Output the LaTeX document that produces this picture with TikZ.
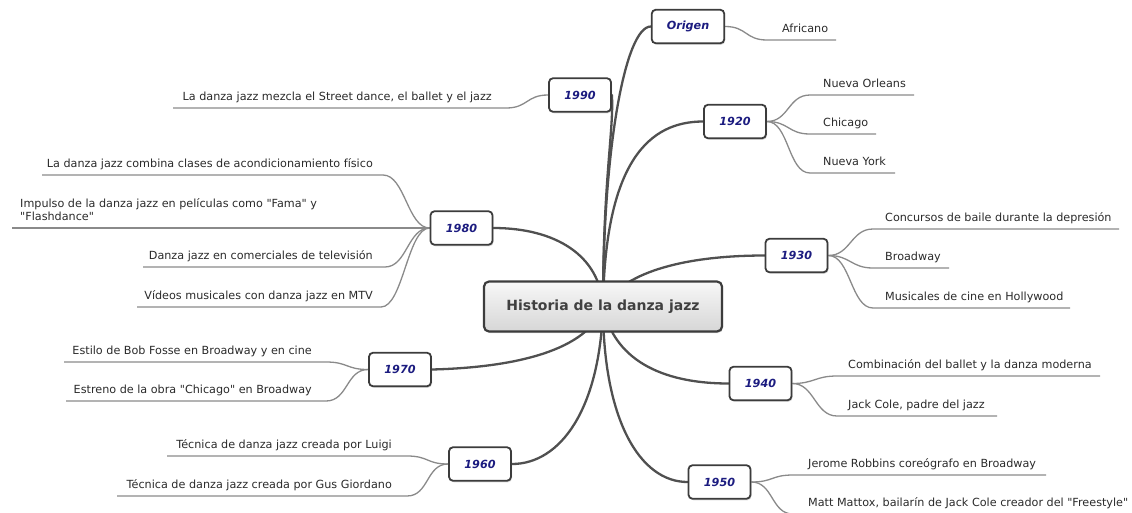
\documentclass[tikz,border=0pt]{standalone}
\usepackage{fontspec}
\setmainfont{DejaVu Sans}
\usetikzlibrary{shadows}
\pgfdeclarelayer{background}
\pgfsetlayers{background,main}
\definecolor{mainline}{HTML}{505050}
\definecolor{boxborder}{HTML}{3C3C3C}
\definecolor{yearblue}{HTML}{1C1C80}
\definecolor{subline}{HTML}{8A8A8A}
\definecolor{leaftext}{HTML}{2A2A2A}
\definecolor{roottext}{HTML}{404040}
\newcommand\rleaf[7]{%
  \node[leafR] (#2) at (#3,#4-8) {#7};
  \coordinate (#2-a) at (#5,#4);
  \coordinate (#2-b) at (#6,#4);
  \begin{pgfonlayer}{background}
  \draw[twig] (#1.east) .. controls +(22,0) and +(-22,0) .. (#2-a) -- (#2-b);
  \end{pgfonlayer}
}
\newcommand\lleaf[7]{%
  \node[leafL] (#2) at (#3,#4-8) {#7};
  \coordinate (#2-a) at (#5,#4);
  \coordinate (#2-b) at (#6,#4);
  \begin{pgfonlayer}{background}
  \draw[twig] (#1.west) .. controls +(-22,0) and +(22,0) .. (#2-b) -- (#2-a);
  \end{pgfonlayer}
}
\newcommand\dq{\textquotedbl}
\begin{document}
\begin{tikzpicture}[x=1pt,y=-1pt,
  every node/.style={font=\fontsize{11.2}{13}\selectfont},
  root/.style={draw=boxborder, line width=2.2pt, rounded corners=5pt,
    top color=white!97!black, bottom color=white!84!black,
    minimum width=238pt, minimum height=50pt,
    font=\fontsize{14}{16}\selectfont\bfseries, text=roottext,
    drop shadow={opacity=0.3, shadow xshift=1pt, shadow yshift=-1.5pt}},
  year/.style={draw=boxborder, line width=1.8pt, rounded corners=4pt, fill=white,
    minimum width=62pt, minimum height=33.5pt, inner xsep=15pt,
    font=\fontsize{11.2}{13}\selectfont\bfseries\itshape, text=yearblue,
    drop shadow={opacity=0.3, shadow xshift=1pt, shadow yshift=-1.5pt}},
  leafR/.style={anchor=base west, inner sep=0pt, text=leaftext},
  leafL/.style={anchor=base east, inner sep=0pt, text=leaftext},
  trunk/.style={draw=mainline, line width=2.3pt, line cap=round},
  twig/.style={draw=subline, line width=1.3pt},
]
\useasboundingbox (0,0) rectangle (1132,512);

\node[root] (hist) at (603,306.5) {Historia de la danza jazz};
\node[year] (orig) at (688,26.5) {Origen};
\node[year] (y1990) at (580,95) {1990};
\node[year] (y1920) at (735,121.5) {1920};
\node[year] (y1980) at (461.5,228) {1980};
\node[year] (y1930) at (796.5,255.5) {1930};
\node[year] (y1970) at (400,369.5) {1970};
\node[year] (y1940) at (760.5,383.5) {1940};
\node[year] (y1960) at (480,464) {1960};
\node[year] (y1950) at (719.5,482) {1950};

\begin{pgfonlayer}{background}
\draw[trunk] (hist.center) .. controls (603,150) and (625,26.5) .. (orig.west);
\draw[trunk] (hist.center) .. controls (603,180) and (614,130) .. (y1990.east);
\draw[trunk] (hist.center) .. controls (605,160) and (650,121.5) .. (y1920.west);
\draw[trunk] (y1980.east) .. controls (555,228) and (600,255) .. (hist.center);
\draw[trunk] (hist.center) .. controls (625,270) and (690,255.5) .. (y1930.west);
\draw[trunk] (y1970.east) .. controls (530,367) and (590,345) .. (hist.center);
\draw[trunk] (hist.center) .. controls (615,365) and (670,383.5) .. (y1940.west);
\draw[trunk] (y1960.east) .. controls (560,464) and (600,410) .. (hist.center);
\draw[trunk] (hist.center) .. controls (603,420) and (640,482) .. (y1950.west);
\end{pgfonlayer}

\rleaf{orig}{afr}{782}{40}{767}{836}{Africano}
\rleaf{y1920}{no}{823}{95}{810}{914}{Nueva Orleans}
\rleaf{y1920}{chi}{823}{134}{810}{876}{Chicago}
\rleaf{y1920}{ny}{823}{173}{810}{895}{Nueva York}
\rleaf{y1930}{con}{885}{229}{873}{1119}{Concursos de baile durante la depresión}
\rleaf{y1930}{bro}{885}{268}{873}{949}{Broadway}
\rleaf{y1930}{mus}{885}{308}{873}{1070}{Musicales de cine en Hollywood}
\rleaf{y1940}{comb}{848}{376}{837}{1100}{Combinación del ballet y la danza moderna}
\rleaf{y1940}{jc}{848}{416}{837}{997}{Jack Cole, padre del jazz}
\rleaf{y1950}{jr}{808}{475}{793}{1046}{Jerome Robbins coreógrafo en Broadway}
\rleaf{y1950}{mm}{808}{514}{793}{1132}{Matt Mattox, bailarín de Jack Cole creador del \dq Freestyle\dq}

\lleaf{y1990}{mez}{492}{108}{173}{506}{La danza jazz mezcla el Street dance, el ballet y el jazz}
\lleaf{y1980}{acon}{373}{175}{42}{383}{La danza jazz combina clases de acondicionamiento físico}
\node[text=leaftext, anchor=north west, inner sep=0pt, align=left] (imp) at (20,198.5)
  {Impulso de la danza jazz en películas como \dq Fama\dq{} y\\\dq Flashdance\dq};
\coordinate (imp-a) at (12,228);
\coordinate (imp-b) at (393,228);
\begin{pgfonlayer}{background}
\draw[twig] (y1980.west) .. controls +(-15,0) and +(15,0) .. (imp-b) -- (imp-a);
\end{pgfonlayer}
\lleaf{y1980}{tv}{373}{267}{143}{385}{Danza jazz en comerciales de televisión}
\lleaf{y1980}{mtv}{373}{307}{137}{381}{Vídeos musicales con danza jazz en MTV}
\lleaf{y1970}{fos}{312}{362}{64}{326}{Estilo de Bob Fosse en Broadway y en cine}
\lleaf{y1970}{est}{312}{401}{66}{326}{Estreno de la obra \dq Chicago\dq{} en Broadway}
\lleaf{y1960}{lui}{392}{456}{167}{407}{Técnica de danza jazz creada por Luigi}
\lleaf{y1960}{gus}{392}{496}{117}{407}{Técnica de danza jazz creada por Gus Giordano}
\end{tikzpicture}
\end{document}
